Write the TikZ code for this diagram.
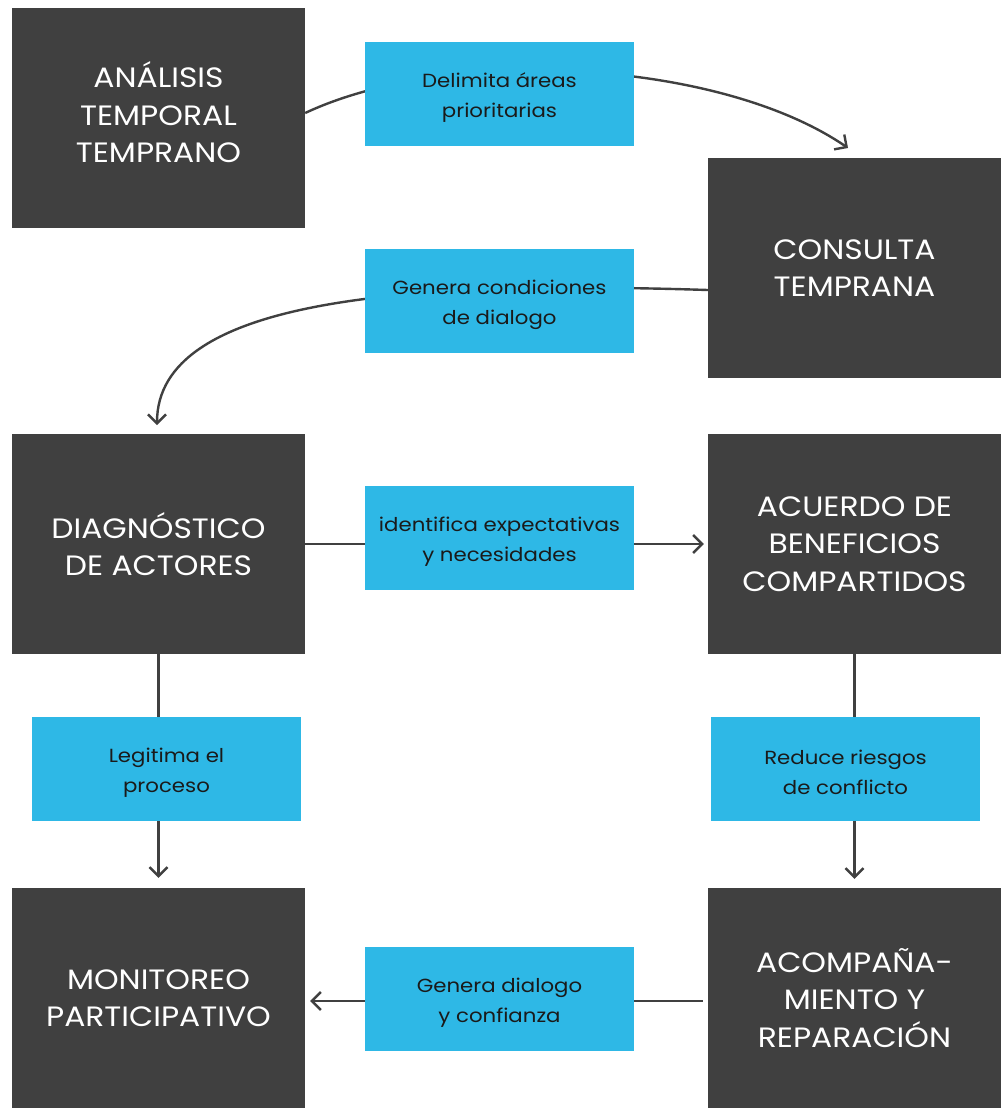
\documentclass[tikz,border=0pt]{standalone}
\usepackage{fontspec}
\setmainfont{Poppins}[FakeStretch=1.12]
\usetikzlibrary{arrows.meta}
\definecolor{darkbox}{HTML}{404040}
\definecolor{bluebox}{HTML}{2EB8E6}
\definecolor{txt}{HTML}{1A1A1A}
\definecolor{lin}{HTML}{404040}
\begin{document}
\begin{tikzpicture}[x=1pt,y=-1pt,
  dbox/.style={fill=darkbox,draw=none,minimum width=293pt,minimum height=220pt,inner sep=0pt,align=center,text=white,font=\fontsize{28}{37.5}\selectfont},
  bbox/.style={fill=bluebox,draw=none,minimum width=269pt,minimum height=104pt,inner sep=0pt},
  btext/.style={align=center,text=txt,inner sep=0pt,yshift=-3.5pt,font=\fontsize{19}{30}\selectfont},
  conn/.style={draw=lin,line width=2.4pt},
  arr/.style={conn,-{Straight Barb[length=9pt,width=18pt,line width=2.4pt]}}]
\useasboundingbox[fill=white] (0,0) rectangle (1002,1108);
% dark boxes
\node[dbox] (ana) at (158.5,118) {ANÁLISIS\\TEMPORAL\\TEMPRANO\rule[-11pt]{0pt}{0pt}};
\node[dbox] (con) at (854.5,268) {CONSULTA\\TEMPRANA};
\node[dbox] (dia) at (158.5,544) {DIAGNÓSTICO\\DE ACTORES};
\node[dbox] (acu) at (854.5,544) {ACUERDO DE\\BENEFICIOS\\COMPARTIDOS};
\node[dbox] (mon) at (158.5,998) {MONITOREO\\PARTICIPATIVO};
\node[dbox] (aco) at (854.5,998) {ACOMPAÑA-\\MIENTO Y\\REPARACIÓN};
% free ends
\coordinate (e1) at (848,148);
\coordinate (e2) at (157,425);
% connectors
\draw[arr] (ana.east |- 0,113) .. controls (450,45) and (720,60) .. (e1);
\draw[arr] (con.west |- 0,290) .. controls (400,280) and (157,300) .. (e2);
\draw[arr] (dia.east) -- ([xshift=-4pt]acu.west);
\draw[arr] (dia.south) -- ([yshift=10pt]mon.north);
\draw[arr] (acu.south) -- ([yshift=9pt]aco.north);
\draw[arr] ([xshift=-5pt]aco.west |- 0,1001) -- ([xshift=5pt]mon.east |- 0,1001);
% blue label boxes
\node[bbox,label={[btext]center:{Delimita áreas\\prioritarias}}] (l1) at (499.5,94) {};
\node[bbox,label={[btext]center:{Genera condiciones\\de dialogo}}] (l2) at (499.5,301) {};
\node[bbox,label={[btext]center:{identifica expectativas\\y necesidades}}] (l3) at (499.5,538) {};
\node[bbox,label={[btext]center:{Legitima el\\proceso}}] (l4) at (166.5,769) {};
\node[bbox,label={[btext]center:{Reduce riesgos\\de conflicto}}] (l5) at (845.5,769) {};
\node[bbox,label={[btext]center:{Genera dialogo\\y confianza}}] (l6) at (499.5,999) {};
\end{tikzpicture}
\end{document}
